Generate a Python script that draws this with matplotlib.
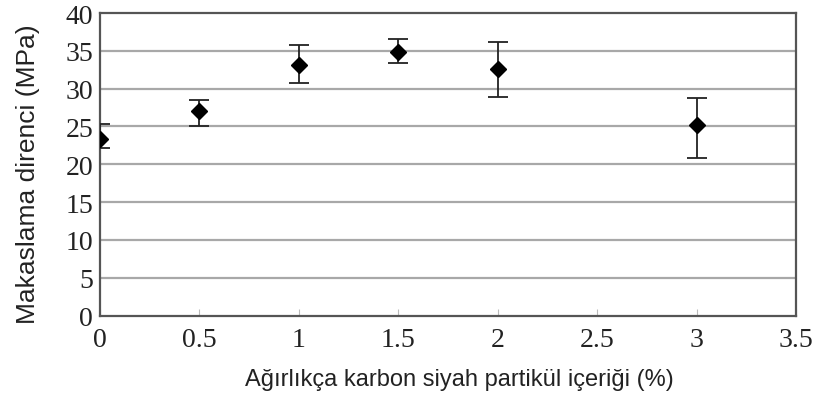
import numpy as np
import matplotlib
matplotlib.use("Agg")
import matplotlib.pyplot as plt

# carbon black content (wt %) and shear strength (MPa)
icerik = [0, 0.5, 1, 1.5, 2, 3]
direnc = [23.3, 27.0, 33.1, 34.9, 32.6, 25.2]
hata_alt = [1.1, 1.9, 2.3, 1.5, 3.7, 4.4]
hata_ust = [2.0, 1.5, 2.7, 1.7, 3.6, 3.5]

x_ticks = [0, 0.5, 1, 1.5, 2, 2.5, 3, 3.5]
y_ticks = [0, 5, 10, 15, 20, 25, 30, 35, 40]

fig = plt.figure(figsize=(8.19, 4.02), dpi=100)
ax = fig.add_axes([100 / 819, 1 - 316.5 / 402, 696 / 819, 302.5 / 402])

for yv in y_ticks[1:-1]:
    ax.axhline(yv, color="#a8a8a8", lw=1.6, zorder=1)

ax.errorbar(icerik, direnc, yerr=[hata_alt, hata_ust], fmt="D", color="black",
            ms=8, ecolor="#222222", elinewidth=1.3, capsize=7, capthick=1.3, zorder=3)

ax.set_xlim(0, 3.5)
ax.set_ylim(0, 40)
ax.set_xticks(x_ticks)
ax.set_yticks(y_ticks)
ax.set_xticklabels(["0", "0.5", "1", "1.5", "2", "2.5", "3", "3.5"])
ax.tick_params(axis="x", direction="in", length=5, color="#bbbbbb", pad=8)
ax.tick_params(axis="y", length=0, pad=5)
for lab in ax.get_xticklabels() + ax.get_yticklabels():
    lab.set_family("Liberation Serif")
    lab.set_fontsize(20)
    lab.set_color("#222222")

for s in ax.spines.values():
    s.set_color("#555555")
    s.set_linewidth(1.6)

ax.set_xlabel("Ağırlıkça karbon siyah partikül içeriği (%)", family="Liberation Sans",
              fontsize=17, color="#222222", labelpad=12)
ax.xaxis.label.set_x(0.517)
ax.set_ylabel("Makaslama direnci (MPa)", family="Liberation Sans",
              fontsize=19, color="#222222", labelpad=18)
ax.yaxis.label.set_y(0.47)

fig.savefig("out.png", dpi=100)
